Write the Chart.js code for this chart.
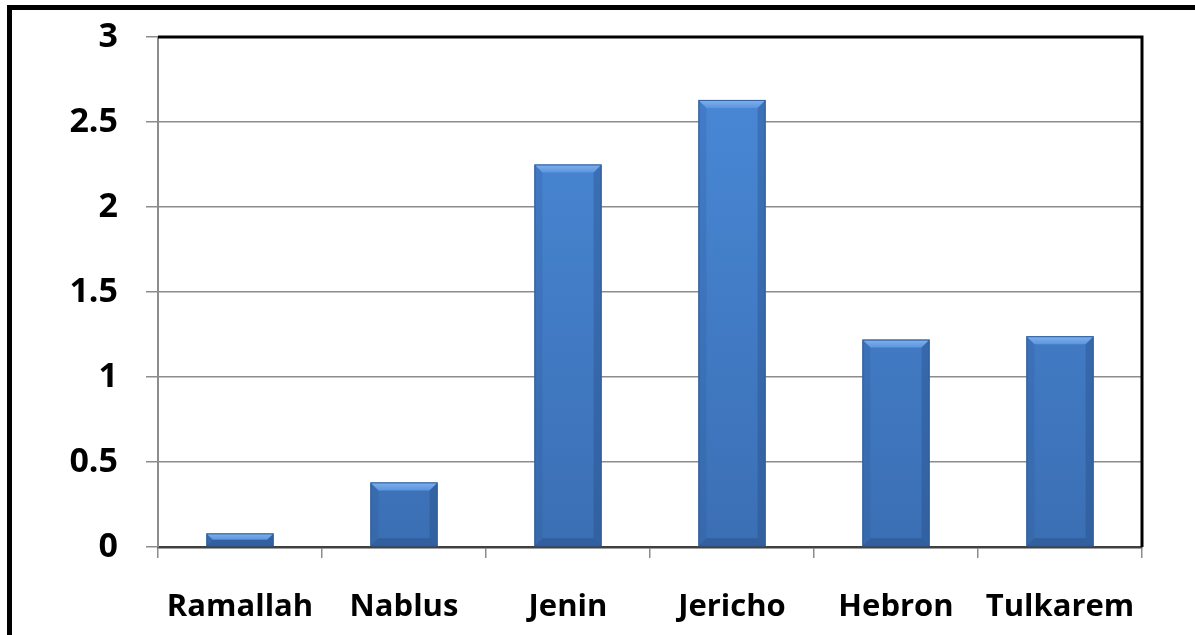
<!DOCTYPE html>
<html>
<head>
<meta charset="utf-8">
<script src="https://cdn.jsdelivr.net/npm/chart.js@4/dist/chart.umd.min.js"></script>
<style>
  html, body { margin: 0; padding: 0; background: #fff; }
  #wrap { position: relative; width: 1195px; height: 635px; }
  #frame { position: absolute; left: 7px; top: 5px; right: -10px; bottom: -10px; border: 5px solid #000; pointer-events: none; }
  canvas { position: absolute; left: 0; top: 0; }
</style>
</head>
<body>
<div id="wrap">
  <canvas id="chart" width="1195" height="635"></canvas>
  <div id="frame"></div>
</div>
<script>
const cities = ["Ramallah", "Nablus", "Jenin", "Jericho", "Hebron", "Tulkarem"];
const values = [0.08, 0.38, 2.25, 2.63, 1.22, 1.24];
const yTicks = [0, 0.5, 1, 1.5, 2, 2.5, 3];

const gridGray = "#8c8c8c";
const xFont = { family: "'Open Sans', sans-serif", size: 31, weight: "bold" };
const yFont = { family: "'Open Sans', sans-serif", size: 34, weight: "bold" };

// bevelled look of the Excel bars
const bevel = {
	id: "bevel",
	afterDatasetsDraw(chart) {
		const ctx = chart.ctx;
		chart.getDatasetMeta(0).data.forEach(bar => {
			const l = bar.x - bar.width / 2, r = bar.x + bar.width / 2;
			const t = bar.y, b = bar.base;
			const s = Math.min(8, (b - t) / 2);
			ctx.save();
			// top face
			const tg = ctx.createLinearGradient(0, t, 0, t + s);
			tg.addColorStop(0, "#7fb2f0");
			tg.addColorStop(1, "#5d95de");
			ctx.fillStyle = tg;
			ctx.beginPath();
			ctx.moveTo(l, t); ctx.lineTo(r, t); ctx.lineTo(r - s, t + s); ctx.lineTo(l + s, t + s);
			ctx.closePath(); ctx.fill();
			// left face
			ctx.fillStyle = "rgba(40,80,140,0.18)";
			ctx.beginPath();
			ctx.moveTo(l, t); ctx.lineTo(l + s, t + s); ctx.lineTo(l + s, b - s); ctx.lineTo(l, b);
			ctx.closePath(); ctx.fill();
			// right face
			ctx.fillStyle = "rgba(30,60,110,0.28)";
			ctx.beginPath();
			ctx.moveTo(r, t); ctx.lineTo(r - s, t + s); ctx.lineTo(r - s, b - s); ctx.lineTo(r, b);
			ctx.closePath(); ctx.fill();
			// bottom face
			ctx.fillStyle = "rgba(30,60,110,0.3)";
			ctx.beginPath();
			ctx.moveTo(l, b); ctx.lineTo(l + s, b - s); ctx.lineTo(r - s, b - s); ctx.lineTo(r, b);
			ctx.closePath(); ctx.fill();
			ctx.strokeStyle = "#2f5c97";
			ctx.lineWidth = 1;
			ctx.strokeRect(l + 0.5, t + 0.5, r - l - 1, b - t - 1);
			ctx.restore();
		});
	}
};

// thick black top and right edges of the plot area
const plotFrame = {
	id: "plotFrame",
	afterDraw(chart) {
		const { ctx, chartArea: a } = chart;
		ctx.save();
		ctx.strokeStyle = "#000";
		ctx.lineWidth = 3;
		ctx.beginPath();
		ctx.moveTo(a.left, a.top);
		ctx.lineTo(a.right, a.top);
		ctx.lineTo(a.right, a.bottom);
		ctx.stroke();
		ctx.restore();
	}
};

new Chart(document.getElementById("chart"), {
	type: "bar",
	data: {
		labels: cities,
		datasets: [{
			data: values,
			backgroundColor: ctx => {
				const area = ctx.chart.chartArea;
				if (!area) return "#4584d6";
				const g = ctx.chart.ctx.createLinearGradient(0, area.top, 0, area.bottom);
				g.addColorStop(0, "#4a8ad9");
				g.addColorStop(1, "#3b6fb4");
				return g;
			},
			borderWidth: 0,
			barPercentage: 0.41,
			categoryPercentage: 1
		}]
	},
	options: {
		responsive: false,
		animation: false,
		layout: { padding: { top: 37, right: 53, left: 0, bottom: 0 } },
		plugins: {
			legend: { display: false },
			tooltip: { enabled: false }
		},
		scales: {
			x: {
				grid: { drawOnChartArea: false, drawTicks: true, tickLength: 11, color: gridGray, lineWidth: 1.5 },
				border: { color: "#404040", width: 2.5 },
				ticks: { color: "#000", font: xFont, padding: 31 },
				afterFit: scale => { scale.height = 88; scale.paddingLeft = 0; scale.paddingRight = 0; }
			},
			y: {
				min: 0,
				max: 3,
				afterBuildTicks: scale => { scale.ticks = yTicks.map(v => ({ value: v })); },
				grid: { color: gridGray, lineWidth: 1.5, tickLength: 12 },
				border: { color: gridGray, width: 2 },
				ticks: { color: "#000", font: yFont, padding: 28, callback: v => String(v) },
				afterFit: scale => { scale.width = 158; scale.paddingTop = 0; scale.paddingBottom = 0; }
			}
		}
	},
	plugins: [bevel, plotFrame]
});
</script>
</body>
</html>
